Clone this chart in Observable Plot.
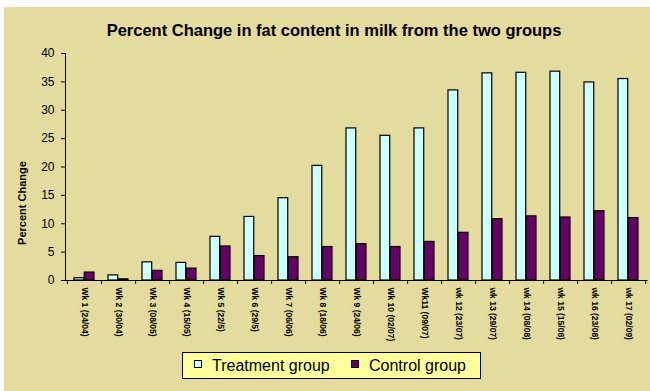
<!DOCTYPE html>
<html>
<head>
<meta charset="utf-8">
<script src="https://cdn.jsdelivr.net/npm/d3@7"></script>
<script src="https://cdn.jsdelivr.net/npm/@observablehq/plot@0.6"></script>
<style>
  html, body { margin: 0; padding: 0; background: #ffffff; }
  #wrap { position: relative; width: 650px; height: 391px; overflow: hidden; font-family: "Liberation Sans", Arial, sans-serif; }
  #bg { position: absolute; left: 4px; top: 7px; width: 646px; height: 384px; background: #E4DB9E; }
  #title { position: absolute; left: 4px; width: 660px; top: 21px; text-align: center; font-size: 16.5px; font-weight: bold; color: #000; line-height: 18px; }
  #chart { position: absolute; left: 0; top: 0; }
  #legend { position: absolute; left: 182px; top: 352px; width: 297px; height: 25px; background: #FFFF9C; border: 1px solid #000; font-size: 16px; color: #000; }
  .item { position: absolute; top: 3px; line-height: 19px; white-space: nowrap; }
  .sw { display: inline-block; width: 6px; height: 6px; border: 1px solid #000; margin-right: 10px; vertical-align: 3px; }
</style>
</head>
<body>
<div id="wrap">
  <div id="bg"></div>
  <div id="chart"></div>
  <div id="title"></div>
  <div id="legend"></div>
</div>
<script>
const title = "Percent Change in fat content in milk from the two groups";
const yLabel = "Percent Change";
const weeks = ["Wk 1 (24/04)", "Wk 2 (30/04)", "Wk 3 (08/05)", "Wk 4 (15/05)", "Wk 5 (22/5)", "Wk 6 (29/5)", "Wk 7 (06/06)", "Wk 8 (18/06)", "Wk 9 (24/06)", "Wk 10 (02/07)", "Wk11 (09/07)", "wk 12 (23/07)", "wk 13 (29/07)", "wk 14 (08/08)", "wk 15 (15/08)", "wk 16 (23/08)", "wk 17 (02/09)"];
const seriesNames = ["Treatment group", "Control group"];
const treatment = [0.4, 0.9, 3.2, 3.1, 7.7, 11.2, 14.5, 20.2, 26.8, 25.5, 26.8, 33.5, 36.5, 36.6, 36.8, 34.9, 35.5];
const control = [1.4, 0.2, 1.7, 2.1, 6.0, 4.3, 4.1, 5.9, 6.4, 5.9, 6.8, 8.4, 10.8, 11.3, 11.1, 12.2, 11.0];
const seriesColors = ["#CCFFFF", "#660066"];
const yTicks = [0, 5, 10, 15, 20, 25, 30, 35, 40];

const tData = weeks.map((w, i) => ({week: w, value: treatment[i]}));
const cData = weeks.map((w, i) => ({week: w, value: control[i]}));

const W = 650, H = 391;
const mL = 65, mR = 3.5, mT = 53, mB = 111;
const step = (W - mL - mR) / weeks.length;
const bw = step * 0.6;

document.getElementById("title").textContent = title;

const plot = Plot.plot({
  width: W, height: H,
  marginLeft: mL, marginRight: mR, marginTop: mT, marginBottom: mB,
  style: {background: "transparent", fontFamily: "Liberation Sans, Arial, sans-serif", color: "#000"},
  x: {type: "band", domain: weeks, paddingInner: 0.4, paddingOuter: 0.2, align: 0.5},
  y: {domain: [0, 40]},
  marks: [
    Plot.barY(tData, {x: "week", y: "value", fill: seriesColors[0], stroke: "#000", strokeWidth: 1.2, insetRight: bw / 2}),
    Plot.barY(cData, {x: "week", y: "value", fill: seriesColors[1], stroke: "#000", strokeWidth: 1.2, insetLeft: bw / 2}),
    Plot.frame({anchor: "left", stroke: "#000"}),
    Plot.frame({anchor: "bottom", stroke: "#000"}),
    Plot.axisY({ticks: yTicks, tickSize: 4, tickPadding: 7, fontSize: 12, label: null, stroke: "#000"}),
    Plot.text([yLabel], {frameAnchor: "left", textAnchor: "middle", rotate: -90, dx: -43, dy: 36, fontSize: 11, fontWeight: "bold", fill: "#000"}),
    Plot.axisX({tickSize: 4, tickFormat: () => "", dx: step / 2, label: null, stroke: "#000"}),
    Plot.axisX([weeks[0]], {tickSize: 4, tickFormat: () => "", dx: -step / 2, label: null, stroke: "#000"}),
    Plot.axisX({tickSize: 0, tickPadding: 7, tickRotate: 90, fontSize: 8.5, fontWeight: "bold", label: null, fill: "#000"})
  ]
});
document.getElementById("chart").appendChild(plot);

const legend = document.getElementById("legend");
const lefts = [11, 168];
seriesNames.forEach((name, i) => {
  const it = document.createElement("div");
  it.className = "item";
  it.style.left = lefts[i] + "px";
  const sw = document.createElement("span");
  sw.className = "sw";
  sw.style.background = seriesColors[i];
  it.appendChild(sw);
  it.appendChild(document.createTextNode(name));
  legend.appendChild(it);
});
</script>
</body>
</html>
